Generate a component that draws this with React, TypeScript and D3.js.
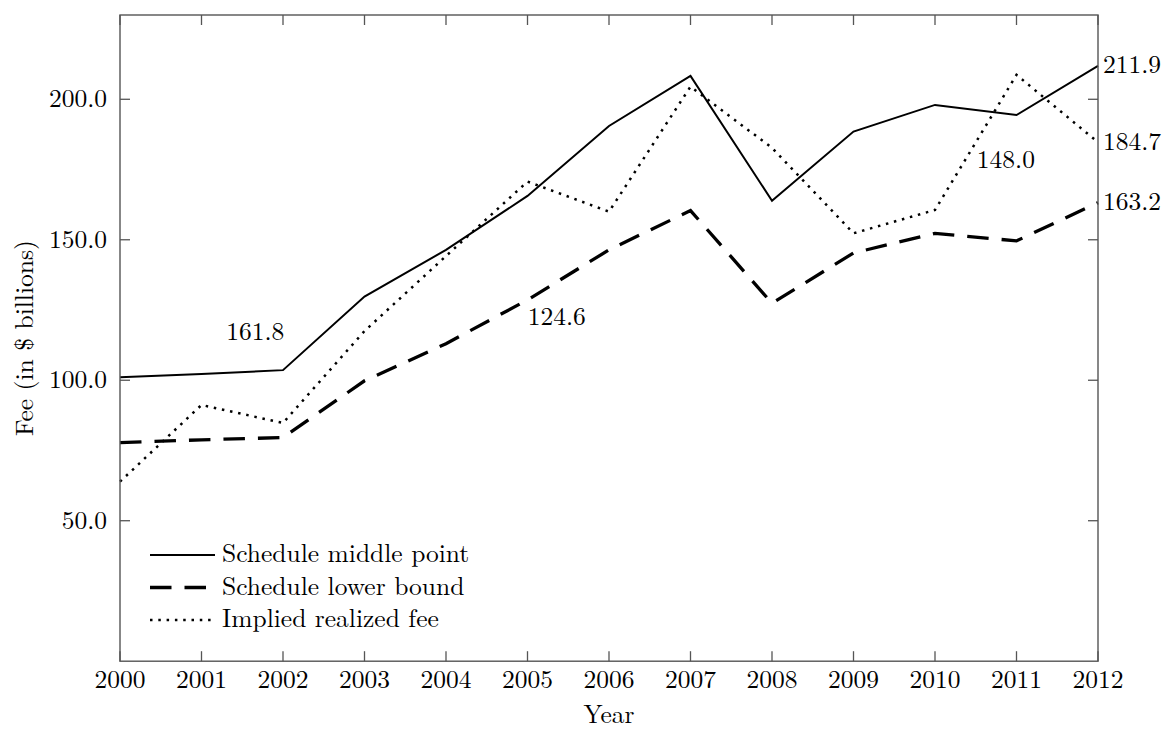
import React from "react";
import * as d3 from "d3";

const years = [2000, 2001, 2002, 2003, 2004, 2005, 2006, 2007, 2008, 2009, 2010, 2011, 2012];
const middlePoint = [101.1, 102.2, 103.6, 129.8, 146.4, 165.6, 190.5, 208.3, 163.9, 188.5, 198.0, 194.4, 211.9];
const lowerBound = [77.8, 78.8, 79.6, 99.8, 113.0, 128.6, 146.4, 160.4, 127.4, 145.3, 152.3, 149.6, 163.2];
const impliedFee = [63.9, 91.2, 84.8, 117.5, 144.2, 170.7, 160.0, 204.5, 182.7, 152.3, 160.6, 208.7, 184.7];
const yTicks = [50, 100, 150, 200];
const seriesNames = ["Schedule middle point", "Schedule lower bound", "Implied realized fee"];
const innerNotes = [
  { year: 2001.66, value: 117.4, text: "161.8" },
  { year: 2005.36, value: 122.7, text: "124.6" },
  { year: 2010.87, value: 178.4, text: "148.0" },
];
const endNotes = [
  { value: 211.9, text: "211.9" },
  { value: 184.7, text: "184.7" },
  { value: 163.2, text: "163.2" },
];

const W = 1166;
const H = 729;
const L = 120, R = 1098, T = 15, B = 661.2;
const FONT = "'Latin Modern Roman', 'Liberation Serif', serif";
const FS = 25.5;
const AX = "#555";
const TS: React.CSSProperties = { fontFamily: FONT, fontSize: FS };

const styles = [
  { width: 2, dash: "none" },
  { width: 3.3, dash: "21.5 13" },
  { width: 2.5, dash: "2.5 5.8" },
];

export default function App() {
  const x = d3.scaleLinear().domain([2000, 2012]).range([L, R]);
  const y = d3.scaleLinear().domain([0, 230]).range([B, T]);
  const line = d3
    .line<number>()
    .x((_, i) => x(years[i]))
    .y((d) => y(d));
  const data = [middlePoint, lowerBound, impliedFee];
  const tickLen = 10;

  return (
    <svg width={W} height={H} style={{ position: "absolute", left: 0, top: 0, background: "#fff" }}>
      <rect x={0} y={0} width={W} height={H} fill="#fff" />
      {data.map((s, i) => (
        <path
          key={i}
          d={line(s) || ""}
          fill="none"
          stroke="#000"
          strokeWidth={styles[i].width}
          strokeDasharray={styles[i].dash}
          strokeLinejoin="miter"
        />
      ))}
      <rect x={L} y={T} width={R - L} height={B - T} fill="none" stroke={AX} strokeWidth={1.4} />
      {years.map((yr) => (
        <g key={yr}>
          <line x1={x(yr)} x2={x(yr)} y1={B} y2={B - tickLen} stroke={AX} strokeWidth={1.3} />
          <line x1={x(yr)} x2={x(yr)} y1={T} y2={T + tickLen} stroke={AX} strokeWidth={1.3} />
          <text x={x(yr)} y={B + 27} textAnchor="middle" style={TS} fill="#000">
            {yr}
          </text>
        </g>
      ))}
      {yTicks.map((v) => (
        <g key={v}>
          <line x1={L} x2={L + tickLen} y1={y(v)} y2={y(v)} stroke={AX} strokeWidth={1.3} />
          <line x1={R} x2={R - tickLen} y1={y(v)} y2={y(v)} stroke={AX} strokeWidth={1.3} />
          <text x={L - 13} y={y(v) + 8} textAnchor="end" style={TS} fill="#000">
            {d3.format(".1f")(v)}
          </text>
        </g>
      ))}
      <text x={(L + R) / 2} y={H - 6} textAnchor="middle" style={TS} fill="#000">
        Year
      </text>
      <text
        transform={`translate(33, ${(T + B) / 2}) rotate(-90)`}
        textAnchor="middle"
        style={TS}
        fill="#000"
      >
        Fee (in $ billions)
      </text>
      {innerNotes.map((n) => (
        <text key={n.text} x={x(n.year)} y={y(n.value) + 8.5} textAnchor="middle" style={TS} fill="#000">
          {n.text}
        </text>
      ))}
      {endNotes.map((n) => (
        <text key={n.text} x={R + 5} y={y(n.value) + 7.5} textAnchor="start" style={TS} fill="#000">
          {n.text}
        </text>
      ))}
      {seriesNames.map((name, i) => {
        const ly = 555 + i * 32.5;
        return (
          <g key={name}>
            <line
              x1={150}
              x2={215}
              y1={ly}
              y2={ly}
              stroke="#000"
              strokeWidth={styles[i].width}
              strokeDasharray={styles[i].dash}
            />
            <text x={222} y={ly + 7} style={TS} fill="#000">
              {name}
            </text>
          </g>
        );
      })}
    </svg>
  );
}
